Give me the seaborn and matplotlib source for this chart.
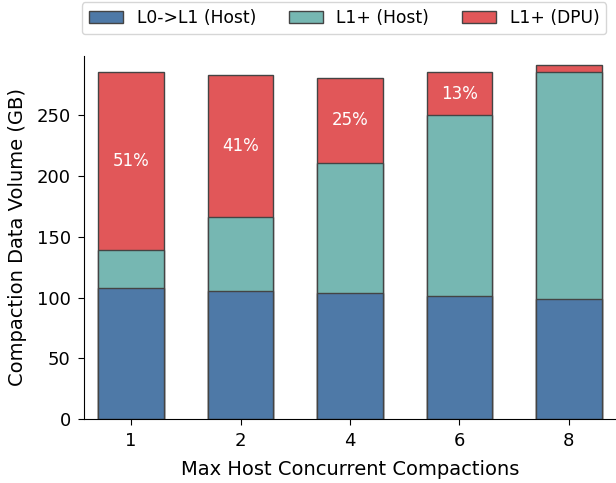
import numpy as np
import pandas as pd
import matplotlib
matplotlib.use("Agg")
import matplotlib.pyplot as plt
import seaborn as sns

# Compaction volume (GB) by max host concurrent compactions
concurrency = ["1", "2", "4", "6", "8"]
l0_l1_host = [107.5, 105.5, 104.0, 101.5, 99.0]
l1_plus_host = [32.0, 60.5, 107.0, 148.5, 186.5]
l1_plus_dpu = [146.0, 117.0, 70.0, 36.0, 6.0]

series_names = ["L0->L1 (Host)", "L1+ (Host)", "L1+ (DPU)"]
colors = ["#4e79a7", "#76b7b2", "#e15759"]

sns.set_style("ticks")
plt.rcParams.update({
    "text.color": "black",
    "axes.labelcolor": "black",
    "axes.edgecolor": "black",
    "xtick.color": "black",
    "ytick.color": "black",
    "xtick.major.size": 4.5,
    "ytick.major.size": 4.5,
    "xtick.major.pad": 5,
    "ytick.major.pad": 5,
})

df = pd.DataFrame({
    "conc": concurrency,
    "l0": l0_l1_host,
    "l1h": l1_plus_host,
    "dpu": l1_plus_dpu,
})
df["host_cum"] = df["l0"] + df["l1h"]
df["total"] = df["host_cum"] + df["dpu"]

fig = plt.figure(figsize=(6.16, 4.83), dpi=100)
ax = fig.add_axes([84 / 616, 64 / 483, (616 - 84) / 616, (419 - 56) / 483])

bar_kw = dict(width=0.6, edgecolor="#444444", linewidth=1.0, saturation=1, ax=ax)
sns.barplot(data=df, x="conc", y="total", color=colors[2], **bar_kw)
sns.barplot(data=df, x="conc", y="host_cum", color=colors[1], **bar_kw)
sns.barplot(data=df, x="conc", y="l0", color=colors[0], **bar_kw)

# DPU share labels in the middle of the DPU segment
for i, row in df.iterrows():
    share = row["dpu"] / row["total"] * 100
    if share >= 5:
        ax.text(i, row["host_cum"] + row["dpu"] / 2, f"{share:.0f}%",
                ha="center", va="center", color="white", fontsize=12)

ax.set_xlim(-0.43, 4.43)
ax.set_ylim(0, 299)
ax.set_yticks([0, 50, 100, 150, 200, 250])
ax.set_xlabel("Max Host Concurrent Compactions", fontsize=14, labelpad=7)
ax.set_ylabel("Compaction Data Volume (GB)", fontsize=14, labelpad=7)
ax.tick_params(axis="both", labelsize=13)
sns.despine(ax=ax)

handles = [plt.Rectangle((0, 0), 1, 1, facecolor=c, edgecolor="#444444", linewidth=1.0)
           for c in colors]
fig.legend(handles, series_names, ncol=3, loc="lower left",
           bbox_to_anchor=(82 / 616, (483 - 34) / 483), borderaxespad=0,
           fontsize=12.3, frameon=True, columnspacing=1.9)

fig.savefig("out.png", dpi=100)
